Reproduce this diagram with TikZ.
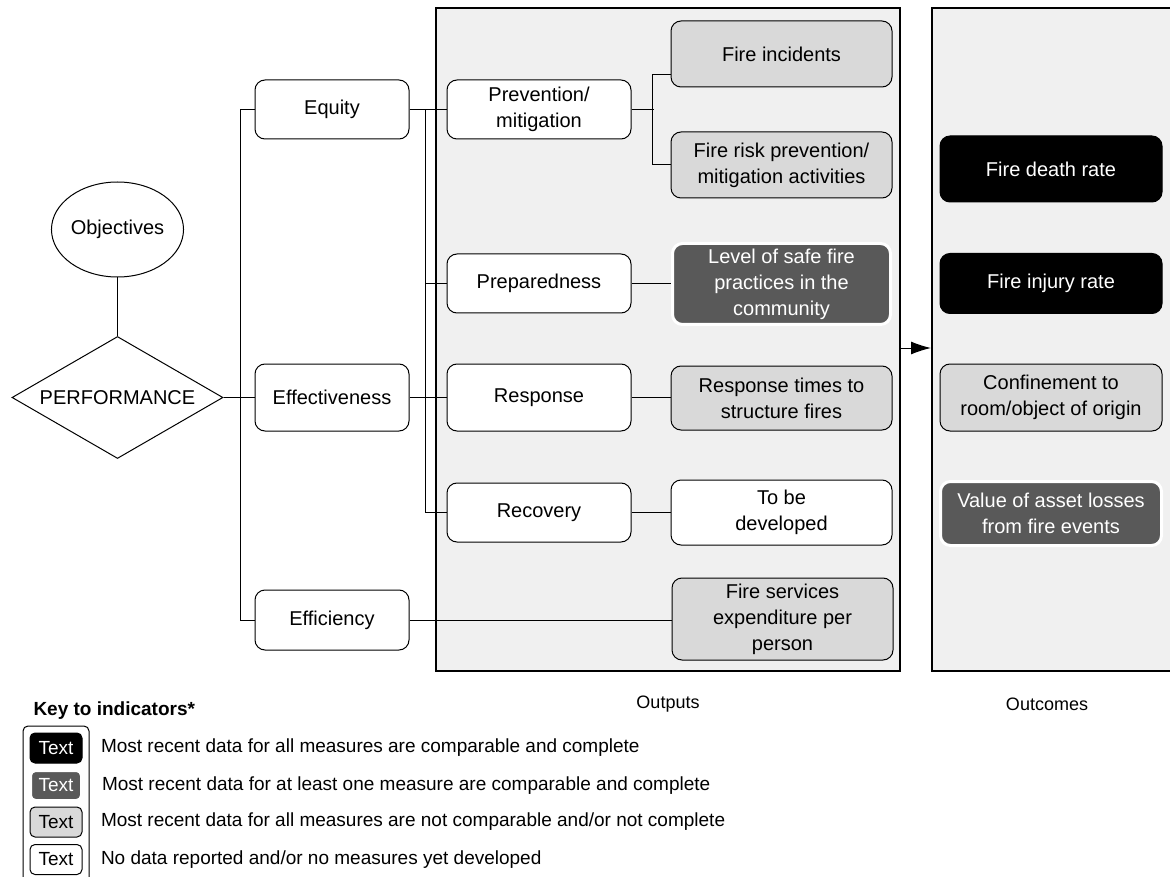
\documentclass[tikz,border=0pt]{standalone}
\usepackage{fontspec}
\setmainfont{Liberation Sans}
\usepackage{tikz}
\usetikzlibrary{positioning}
\usetikzlibrary{shapes.geometric}
\usetikzlibrary{arrows.meta}
\definecolor{panelgray}{HTML}{F0F0F0}
\definecolor{lightfill}{HTML}{D9D9D9}
\definecolor{darkfill}{HTML}{595959}

\begin{document}
\begin{tikzpicture}[x=1pt, y=-1pt, >={Latex[length=20pt,width=13pt]}, line width=1pt,
  every node/.style={font=\fontsize{20}{26}\selectfont},
  box/.style={draw=black, line width=1pt, rounded corners=10pt, align=center, inner sep=0pt},
  nodata/.style={box, fill=white},
  notcomp/.style={box, fill=lightfill},
  partial/.style={box, draw=white, line width=3pt, fill=darkfill, text=white},
  complete/.style={box, fill=black, text=white},
  col_1/.style={minimum width=154pt, minimum height=59pt},
  col_2/.style={minimum width=184pt, minimum height=59pt},
  col_3/.style={minimum width=221pt, minimum height=66pt},
  col_4/.style={minimum width=222pt, minimum height=66pt},
  panel/.style={draw=black, line width=2pt, fill=panelgray, inner sep=0pt},
  swatch/.style={minimum width=52pt, minimum height=30pt, rounded corners=5pt, font=\fontsize{19}{21}\selectfont},
  keytext/.style={font=\fontsize{19}{22}\selectfont, inner sep=0pt}]
\useasboundingbox (0,0) rectangle (1170,877);
\clip (0,0) rectangle (1170,877);

\node[name=outputs_panel, panel, minimum width=464pt, minimum height=663pt] at (668,339.5) {};
\node[name=outcomes_panel, panel, minimum width=253pt, minimum height=663pt] at (1058.5,339.5) {};
\node[name=outputs_label, font=\fontsize{18}{20}\selectfont] at (668,704) {Outputs};
\node[name=outcomes_label, font=\fontsize{18}{20}\selectfont] at (1047,704) {Outcomes};

\node[name=objectives, ellipse, draw, minimum width=124pt, minimum height=95pt, inner sep=0pt] at (117.5,229.5) {Objectives};
\node[name=performance, diamond, draw, aspect=1.73, minimum width=211pt, minimum height=122pt, inner sep=0pt] at (117.5,397.5) {PERFORMANCE};

\node[name=equity, nodata, col_1] at (332,109.5) {Equity};
\node[name=effectiveness, nodata, col_1, minimum height=67pt] at (332,397.5) {Effectiveness};
\node[name=efficiency, nodata, col_1, minimum height=60pt] at (332,620) {Efficiency};

\node[name=prevention, nodata, col_2] at (539,109.5) {Prevention/\\mitigation};
\node[name=preparedness, nodata, col_2] at (539,283.5) {Preparedness};
\node[name=response, nodata, col_2, minimum height=67pt] at (539,397.5) {Response};
\node[name=recovery, nodata, col_2] at (539,512.5) {Recovery};

\node[name=incidents, notcomp, col_3] at (781.5,54) {Fire incidents};
\node[name=riskprev, notcomp, col_3] at (781.5,165) {Fire risk prevention/\\mitigation activities};
\node[name=safe, partial, col_3, minimum width=218pt, minimum height=81pt] at (781.5,284) {Level of safe fire\\practices in the\\community};
\node[name=resptimes, notcomp, col_3, minimum height=64pt] at (781.5,398) {Response times to\\structure fires};
\node[name=tobedev, nodata, col_3, minimum height=65pt] at (781.5,512.5) {To be\\developed};
\node[name=expenditure, notcomp, col_3, minimum height=82pt] at (782.5,619) {Fire services\\expenditure per\\person};

\node[name=death, complete, col_4] at (1051,169) {Fire death rate};
\node[name=injury, complete, col_4, minimum height=60pt] at (1051,283.5) {Fire injury rate};
\node[name=confinement, notcomp, col_4, minimum height=67pt] at (1051,397.5) {Confinement to\\room/object of origin};
\node[name=asset, partial, col_4, minimum width=221pt, minimum height=64pt] at (1051,513.5) {Value of asset losses\\from fire events};

\draw(objectives.south) -- (performance.north);
\draw(performance.east) -- (effectiveness.west);
\draw(equity.west) -- ++(-14,0) |- (efficiency.west);
\draw(equity.east) -- (prevention.west);
\draw(equity.east) -- ++(16,0) |- (recovery.west);
\draw(preparedness.west) -- ++(-22,0);
\draw(effectiveness.east) -- (response.west);
\draw(prevention.east) -- ++(22,0);
\draw([yshift=-21pt]incidents.west) -- ++(-18,0) |- (riskprev.west);
\draw(preparedness.east) -- (preparedness.east -| safe.west);
\draw(response.east) -- (response.east -| resptimes.west);
\draw(recovery.east) -- (recovery.east -| tobedev.west);
\draw(efficiency.east) -- (efficiency.east -| expenditure.west);
\draw[->]([yshift=-8.5pt]outputs_panel.east) -- ([yshift=-8.5pt]outcomes_panel.west);

\node[name=key_title, anchor=west, inner sep=0pt, font=\bfseries\fontsize{19}{21}\selectfont] at (33,711) {Key to indicators*};
\draw[fill=white, rounded corners=5pt] (23,726) rectangle (89,900);
\node[name=key_complete, complete, swatch] at (56,748) {Text};
\node[name=key_partial, partial, swatch, minimum width=51pt] at (56,785.5) {Text};
\node[name=key_notcomp, notcomp, swatch] at (56,822) {Text};
\node[name=key_nodata, nodata, swatch] at (56,859.5) {Text};
\node[name=key_complete_text, keytext, right=18pt of key_complete] {Most recent data for all measures are comparable and complete};
\node[name=key_partial_text, keytext, right=18.5pt of key_partial] {Most recent data for at least one measure are comparable and complete};
\node[name=key_notcomp_text, keytext, right=18pt of key_notcomp] {Most recent data for all measures are not comparable and/or not complete};
\node[name=key_nodata_text, keytext, right=18pt of key_nodata] {No data reported and/or no measures yet developed};
\end{tikzpicture}
\end{document}
